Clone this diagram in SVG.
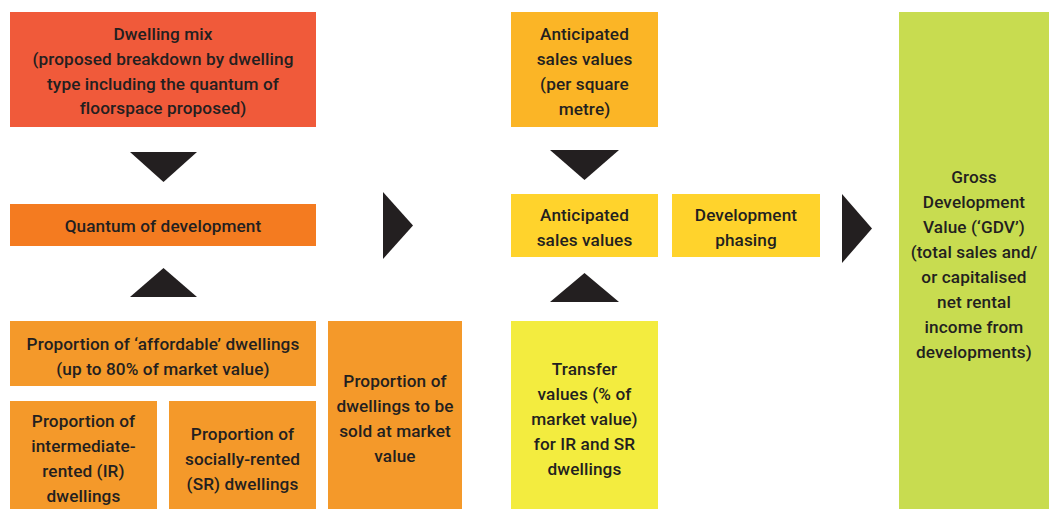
<svg xmlns="http://www.w3.org/2000/svg" width="1054" height="509" viewBox="0 0 1054 509">
  <style>
    .lbl { font-family: Roboto, "Liberation Sans", Arial, sans-serif; font-weight: 500; font-size: 17.2px; letter-spacing: 0.1px; fill: #231F20; text-anchor: middle; }
    .arrow { fill: #231F20; }
    .red { fill: #F05A3A; }
    .orange { fill: #F47B20; }
    .amber { fill: #F4992A; }
    .gold { fill: #FBB526; }
    .yellow { fill: #FFD32C; }
    .lemon { fill: #F3EC3F; }
    .lime { fill: #C8DC50; }
  </style>

  <!-- Left column: dwelling inputs -->
  <g id="dwelling-mix">
    <rect class="red" x="10" y="12" width="306" height="115"/>
    <text class="lbl" x="163" y="40">Dwelling mix</text>
    <text class="lbl" x="163" y="65">(proposed breakdown by dwelling</text>
    <text class="lbl" x="163" y="90">type including the quantum of</text>
    <text class="lbl" x="163" y="114">floorspace proposed)</text>
  </g>

  <g id="quantum">
    <rect class="orange" x="10" y="204" width="306" height="42"/>
    <text class="lbl" x="163" y="232">Quantum of development</text>
  </g>

  <g id="affordable">
    <rect class="amber" x="10" y="321" width="306" height="65"/>
    <text class="lbl" x="163" y="350">Proportion of ‘affordable’ dwellings</text>
    <text class="lbl" x="163" y="375">(up to 80% of market value)</text>
  </g>

  <g id="intermediate-rented">
    <rect class="amber" x="10" y="401" width="147" height="108"/>
    <text class="lbl" x="83.5" y="427">Proportion of</text>
    <text class="lbl" x="83.5" y="452">intermediate-</text>
    <text class="lbl" x="83.5" y="477">rented (IR)</text>
    <text class="lbl" x="83.5" y="502">dwellings</text>
  </g>

  <g id="socially-rented">
    <rect class="amber" x="169" y="401" width="147" height="108"/>
    <text class="lbl" x="242.5" y="440">Proportion of</text>
    <text class="lbl" x="242.5" y="465">socially-rented</text>
    <text class="lbl" x="242.5" y="490">(SR) dwellings</text>
  </g>

  <g id="market-sale">
    <rect class="amber" x="328" y="321" width="134" height="188"/>
    <text class="lbl" x="395" y="387">Proportion of</text>
    <text class="lbl" x="395" y="412">dwellings to be</text>
    <text class="lbl" x="395" y="437">sold at market</text>
    <text class="lbl" x="395" y="462">value</text>
  </g>

  <!-- Middle column: values -->
  <g id="sales-per-sqm">
    <rect class="gold" x="511" y="12" width="147" height="115"/>
    <text class="lbl" x="584.5" y="40">Anticipated</text>
    <text class="lbl" x="584.5" y="65">sales values</text>
    <text class="lbl" x="584.5" y="90">(per square</text>
    <text class="lbl" x="584.5" y="115">metre)</text>
  </g>

  <g id="sales-values">
    <rect class="yellow" x="511" y="194" width="147" height="63"/>
    <text class="lbl" x="584.5" y="221">Anticipated</text>
    <text class="lbl" x="584.5" y="246">sales values</text>
  </g>

  <g id="transfer-values">
    <rect class="lemon" x="511" y="321" width="147" height="188"/>
    <text class="lbl" x="584.5" y="375">Transfer</text>
    <text class="lbl" x="584.5" y="400">values (% of</text>
    <text class="lbl" x="584.5" y="425">market value)</text>
    <text class="lbl" x="584.5" y="450">for IR and SR</text>
    <text class="lbl" x="584.5" y="475">dwellings</text>
  </g>

  <g id="phasing">
    <rect class="yellow" x="672" y="194" width="148" height="63"/>
    <text class="lbl" x="746" y="221">Development</text>
    <text class="lbl" x="746" y="246">phasing</text>
  </g>

  <!-- Result -->
  <g id="gdv">
    <rect class="lime" x="899" y="12" width="150" height="497"/>
    <text class="lbl" x="974" y="183">Gross</text>
    <text class="lbl" x="974" y="208">Development</text>
    <text class="lbl" x="974" y="233">Value (‘GDV’)</text>
    <text class="lbl" x="974" y="258">(total sales and/</text>
    <text class="lbl" x="974" y="283">or capitalised</text>
    <text class="lbl" x="974" y="308">net rental</text>
    <text class="lbl" x="974" y="333">income from</text>
    <text class="lbl" x="974" y="358">developments)</text>
  </g>

  <!-- Connectors: solid triangular pointers -->
  <g id="connectors">
    <polygon class="arrow" points="130,152 197,152 163.5,182"/>
    <polygon class="arrow" points="130,297 197,297 163.5,268"/>
    <polygon class="arrow" points="383,192 413,225.5 383,259"/>
    <polygon class="arrow" points="550,150 619,150 584.5,180"/>
    <polygon class="arrow" points="550,302 619,302 584.5,273"/>
    <polygon class="arrow" points="842,194 872,228.5 842,263"/>
  </g>
</svg>
